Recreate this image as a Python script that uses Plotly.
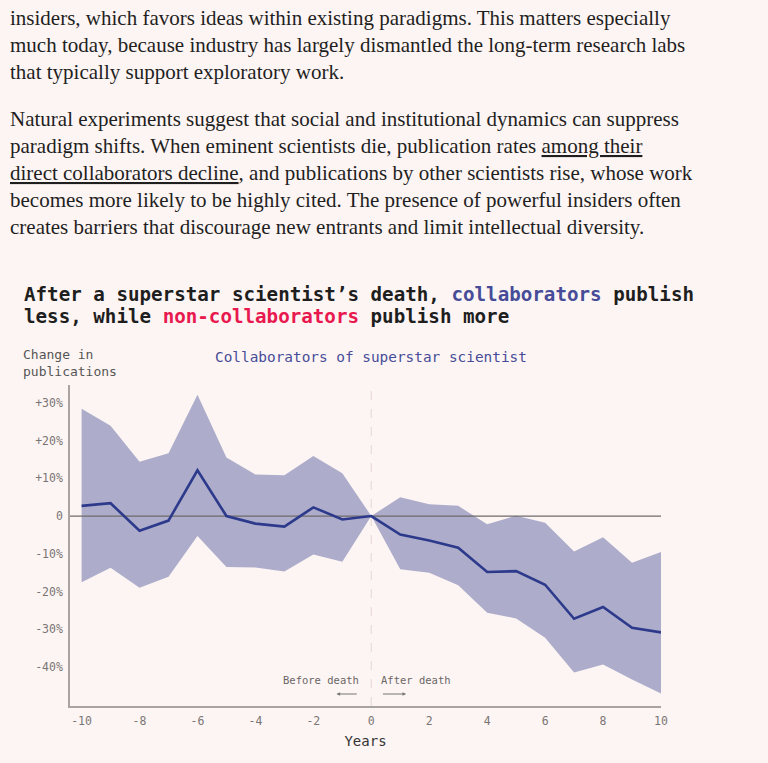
import plotly.graph_objects as go

# ---- data ----
years = [-10, -9, -8, -7, -6, -5, -4, -3, -2, -1, 0, 1, 2, 3, 4, 5, 6, 7, 8, 9, 10]
change = [2.7, 3.4, -3.9, -1.2, 12.1, 0.0, -2.0, -2.8, 2.3, -0.9, 0.0,
          -4.9, -6.5, -8.4, -14.8, -14.6, -18.2, -27.2, -24.1, -29.6, -30.8]
upper = [28.4, 23.9, 14.4, 16.6, 32.1, 15.5, 11.0, 10.8, 15.9, 11.3, 0.0,
         5.0, 3.1, 2.7, -2.2, 0.1, -1.8, -9.4, -5.6, -12.4, -9.5]
lower = [-17.5, -13.7, -19.0, -16.1, -5.3, -13.5, -13.6, -14.7, -10.2, -12.1, 0.0,
         -14.1, -15.0, -18.3, -25.6, -27.1, -32.2, -41.4, -39.3, -43.3, -47.0]
ytick_vals = [30, 20, 10, 0, -10, -20, -30, -40]
ytick_text = ["+30%", "+20%", "+10%", "0", "-10%", "-20%", "-30%", "-40%"]
xtick_vals = [-10, -8, -6, -4, -2, 0, 2, 4, 6, 8, 10]
xtick_text = ["-10", "-8", "-6", "-4", "-2", "0", "2", "4", "6", "8", "10"]

para1 = [
    "insiders, which favors ideas within existing paradigms. This matters especially",
    "much today, because industry has largely dismantled the long-term research labs",
    "that typically support exploratory work.",
]
para2 = [
    "Natural experiments suggest that social and institutional dynamics can suppress",
    "paradigm shifts. When eminent scientists die, publication rates "
    "<span style='text-decoration:underline'>among their</span>",
    "<span style='text-decoration:underline'>direct collaborators decline</span>, "
    "and publications by other scientists rise, whose work",
    "becomes more likely to be highly cited. The presence of powerful insiders often",
    "creates barriers that discourage new entrants and limit intellectual diversity.",
]

BG = "#fdf5f3"
BAND = "#adadcb"
LINE = "#2d3a8c"
BLUE_TXT = "#474c98"
RED_TXT = "#e8194f"
MONO = "DejaVu Sans Mono"
SERIF = "Liberation Serif"

W, H = 768, 763
L, R, T, B = 70, 107, 385, 57
PW, PH = W - L - R, H - T - B


def px(x):
    return (x - L) / PW


def py(y):
    return (H - B - y) / PH


fig = go.Figure()
fig.add_trace(go.Scatter(x=years, y=lower, mode="lines", line=dict(width=0, color=BAND),
                         hoverinfo="skip", showlegend=False))
fig.add_trace(go.Scatter(x=years, y=upper, mode="lines", line=dict(width=0, color=BAND),
                         fill="tonexty", fillcolor=BAND, hoverinfo="skip", showlegend=False))
# zero reference line (above band)
fig.add_trace(go.Scatter(x=[years[0] - 0.4, years[-1]], y=[0, 0], mode="lines",
                         line=dict(width=1.2, color="#6e6a6a"), hoverinfo="skip",
                         showlegend=False))
fig.add_trace(go.Scatter(x=years, y=change, mode="lines", line=dict(width=2.6, color=LINE),
                         showlegend=False))

fig.add_shape(type="line", xref="x", yref="paper", x0=0, x1=0, y0=0, y1=1,
              line=dict(color="#e9dcda", width=1.2, dash="dash"), layer="below")

ann = []
# body text
for i, t in enumerate(para1):
    ann.append(dict(text=t, x=px(8), y=py(18 + 27 * i)))
for i, t in enumerate(para2):
    ann.append(dict(text=t, x=px(8), y=py(119 + 27 * i)))
for a in ann:
    a.update(xref="paper", yref="paper", xanchor="left", yanchor="middle", showarrow=False,
             font=dict(family=SERIF, size=21, color="#1f1f1f"))

more = [
    dict(text="<b>After a superstar scientist’s death, <span style='color:%s'>collaborators</span> publish</b>" % BLUE_TXT,
         x=px(22), y=py(294), font=dict(family=MONO, size=19.2, color="#1e1e1e")),
    dict(text="<b>less, while <span style='color:%s'>non-collaborators</span> publish more</b>" % RED_TXT,
         x=px(22), y=py(316), font=dict(family=MONO, size=19.2, color="#1e1e1e")),
    dict(text="Change in<br>publications", x=px(21), y=py(363), align="left",
         font=dict(family=MONO, size=13, color="#555555")),
    dict(text="Collaborators of superstar scientist", x=px(213), y=py(357),
         font=dict(family=MONO, size=14.4, color=BLUE_TXT)),
]
for a in more:
    a.update(xref="paper", yref="paper", xanchor="left", yanchor="middle", showarrow=False)
    ann.append(a)

ann.append(dict(text="Before death", xref="x", yref="paper", x=0, y=py(680), xshift=-10,
                xanchor="right", yanchor="middle", showarrow=False,
                font=dict(family=MONO, size=10.5, color="#6a6666")))
ann.append(dict(text="After death", xref="x", yref="paper", x=0, y=py(680), xshift=8,
                xanchor="left", yanchor="middle", showarrow=False,
                font=dict(family=MONO, size=10.5, color="#6a6666")))
ann.append(dict(text="", xref="x", yref="paper", x=-1.2, y=py(694), axref="x", ax=-0.45,
                ayref="pixel", ay=0, showarrow=True, arrowhead=2, arrowsize=0.6,
                arrowwidth=1.2, arrowcolor="#777777"))
ann.append(dict(text="", xref="x", yref="paper", x=1.2, y=py(694), axref="x", ax=0.35,
                ayref="pixel", ay=0, showarrow=True, arrowhead=2, arrowsize=0.6,
                arrowwidth=1.2, arrowcolor="#777777"))

fig.update_layout(
    width=W, height=H,
    margin=dict(l=L, r=R, t=T, b=B, pad=0),
    paper_bgcolor=BG, plot_bgcolor=BG,
    annotations=ann,
    showlegend=False,
    xaxis=dict(range=[-10.4, 10], tickvals=xtick_vals, ticktext=xtick_text,
               showgrid=False, zeroline=False,
               showline=True, linecolor="#a9a4a4", linewidth=1.6, ticks="",
               ticklabelstandoff=3,
               tickfont=dict(family=MONO, size=11.5, color="#7a7575"),
               title=dict(text="Years", font=dict(family=MONO, size=14, color="#333333"),
                          standoff=10)),
    yaxis=dict(range=[-50.3, 34.7], tickvals=ytick_vals, ticktext=ytick_text,
               showgrid=False, zeroline=False, showline=True, linecolor="#a9a4a4",
               linewidth=1.6, ticks="", ticklabelstandoff=3,
               tickfont=dict(family=MONO, size=11.5, color="#7a7575")),
)

fig.write_html("out.html", config={"displayModeBar": False},
               post_script="document.body.style.margin='0';"
                           "document.body.style.background='%s';" % BG)
